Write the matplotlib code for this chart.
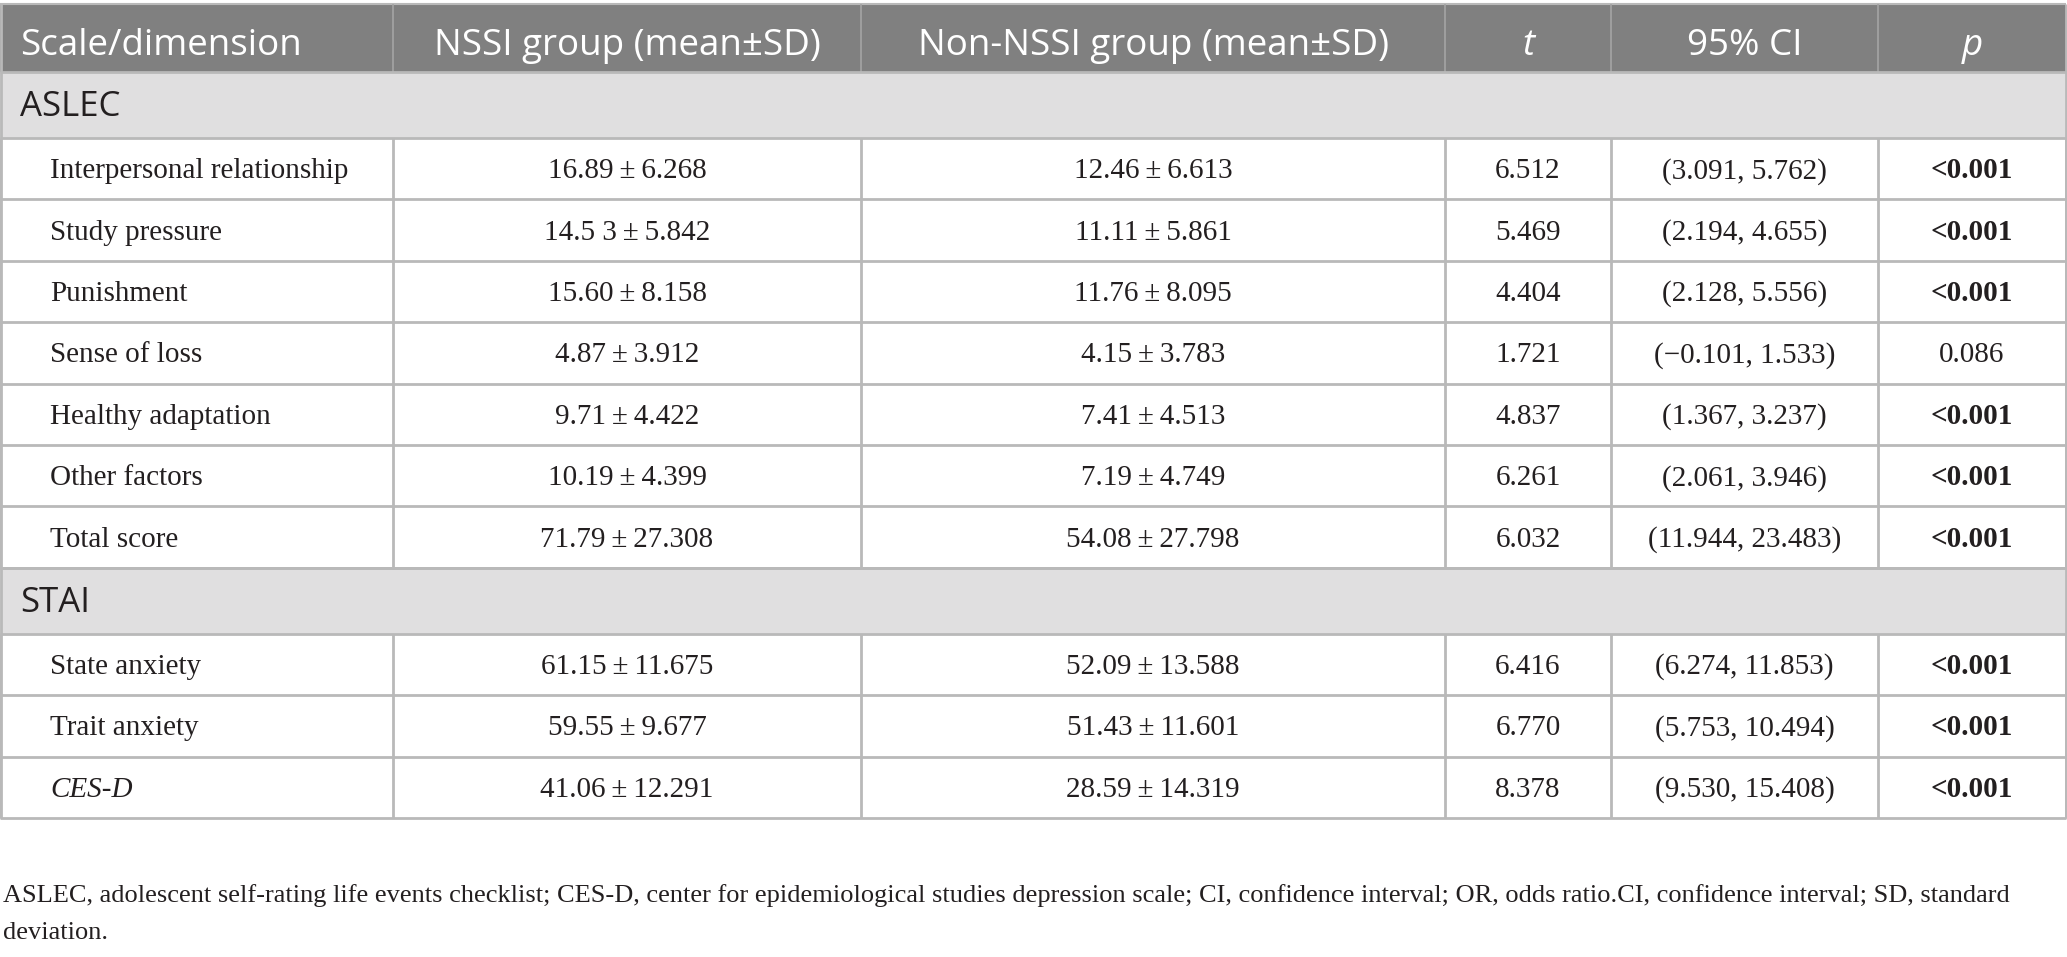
import matplotlib
matplotlib.use("Agg")
import matplotlib.pyplot as plt
from matplotlib.patches import Rectangle

# ---------------- data ----------------
headers = ["Scale/dimension", "NSSI group (mean±SD)", "Non-NSSI group (mean±SD)", "t", "95% CI", "p"]
sections = ["ASLEC", "STAI"]
section_sizes = [7, 3]
labels = ["Interpersonal relationship", "Study pressure", "Punishment", "Sense of loss",
          "Healthy adaptation", "Other factors", "Total score",
          "State anxiety", "Trait anxiety", "CES-D"]
nssi_mean = ["16.89", "14.5 3", "15.60", "4.87", "9.71", "10.19", "71.79", "61.15", "59.55", "41.06"]
nssi_sd = ["6.268", "5.842", "8.158", "3.912", "4.422", "4.399", "27.308", "11.675", "9.677", "12.291"]
non_mean = ["12.46", "11.11", "11.76", "4.15", "7.41", "7.19", "54.08", "52.09", "51.43", "28.59"]
non_sd = ["6.613", "5.861", "8.095", "3.783", "4.513", "4.749", "27.798", "13.588", "11.601", "14.319"]
t_vals = ["6.512", "5.469", "4.404", "1.721", "4.837", "6.261", "6.032", "6.416", "6.770", "8.378"]
ci_lo = ["3.091", "2.194", "2.128", "\u22120.101", "1.367", "2.061", "11.944", "6.274", "5.753", "9.530"]
ci_hi = ["5.762", "4.655", "5.556", "1.533", "3.237", "3.946", "23.483", "11.853", "10.494", "15.408"]
p_vals = ["<0.001", "<0.001", "<0.001", "0.086", "<0.001", "<0.001", "<0.001", "<0.001", "<0.001", "<0.001"]
footnote_lines = ["ASLEC, adolescent self-rating life events checklist; CES-D, center for epidemiological studies "
                  "depression scale; CI, confidence interval; OR, odds ratio.CI, confidence interval; SD, standard",
                  "deviation."]

# ---------------- layout ----------------
W, H = 2067, 957
col_edges = [0, 393, 861, 1445, 1611, 1878, 2066]
header_top, header_bot = 4, 72
band_h = 66
row_h = 61.4

HEADER_BG = "#808080"
BAND_BG = "#e0dfe0"
LINE = "#b9b9b9"
TXT = "#231f20"
SANS = ["Open Sans", "DejaVu Sans"]
SERIF = ["Liberation Serif", "DejaVu Serif"]
body_fs = 21
head_fs = 26.5
band_fs = 25
foot_fs = 19

fig = plt.figure(figsize=(W / 100, H / 100), dpi=100)
ax = fig.add_axes([0, 0, 1, 1])
ax.set_xlim(0, W)
ax.set_ylim(H, 0)
ax.axis("off")

x0, x1 = col_edges[0], col_edges[-1]

# header
ax.add_patch(Rectangle((x0, header_top), x1 - x0, header_bot - header_top, facecolor=HEADER_BG, edgecolor="none"))
ax.hlines(header_top, x0, x1, color=LINE, lw=1.5)
ax.vlines(col_edges[1:-1], header_top, header_bot, color="#a5a5a5", lw=1.2)
for j, h in enumerate(headers):
    style = "italic" if h in ("t", "p") else "normal"
    if j == 0:
        ax.text(20, header_bot - 17, h, ha="left", va="baseline", color="white", fontsize=head_fs,
                family=SANS, fontstyle=style)
    else:
        cx = (col_edges[j] + col_edges[j + 1]) / 2
        ax.text(cx, header_bot - 17, h, ha="center", va="baseline", color="white", fontsize=head_fs,
                family=SANS, fontstyle=style)

# body
y = header_bot
idx = 0
for s, n in zip(sections, section_sizes):
    ax.add_patch(Rectangle((x0, y), x1 - x0, band_h, facecolor=BAND_BG, edgecolor="none"))
    ax.text(20, y + band_h / 2 + 11, s, ha="left", va="baseline", color=TXT, fontsize=band_fs, family=SANS)
    y_band_end = y + band_h
    ax.hlines([y, y_band_end], x0, x1, color=LINE, lw=2)
    y = y_band_end
    block_top = y
    for k in range(n):
        cy = y + row_h / 2
        base = cy + 9.5
        lab = labels[idx]
        ax.text(50, base, lab, ha="left", va="baseline", color=TXT, fontsize=body_fs, family=SERIF,
                fontstyle="italic" if lab == "CES-D" else "normal")
        cells = [f"{nssi_mean[idx]}\u2009±\u2009{nssi_sd[idx]}",
                 f"{non_mean[idx]}\u2009±\u2009{non_sd[idx]}",
                 t_vals[idx],
                 f"({ci_lo[idx]}, {ci_hi[idx]})",
                 p_vals[idx]]
        for j, c in enumerate(cells, start=1):
            cx = (col_edges[j] + col_edges[j + 1]) / 2
            bold = (j == 5 and c.startswith("<"))
            ax.text(cx, base, c, ha="center", va="baseline", color=TXT, fontsize=body_fs, family=SERIF,
                    fontweight="bold" if bold else "normal")
        y += row_h
        ax.hlines(y, x0, x1, color=LINE, lw=2)
        idx += 1
    ax.vlines(col_edges, block_top, y, color=LINE, lw=2)

ax.vlines([x0 + 1, x1], header_top, y, color=LINE, lw=2)

# footnote
for i, line in enumerate(footnote_lines):
    ax.text(3, 896 + i * 37, line, ha="left", va="center", color=TXT, fontsize=foot_fs, family=SERIF)

fig.savefig("out.png", dpi=100)
